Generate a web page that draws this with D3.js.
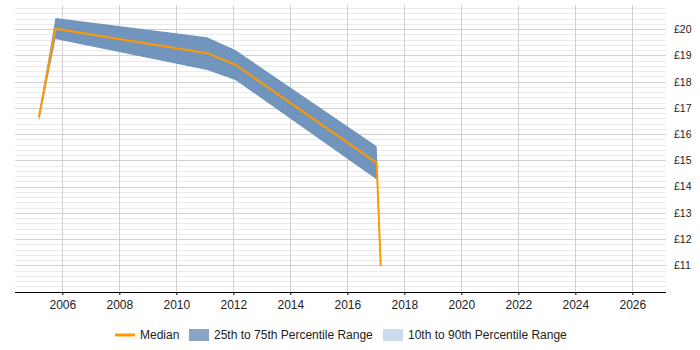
<!DOCTYPE html>
<html><head><meta charset="utf-8">
<script src="https://cdn.jsdelivr.net/npm/d3@7"></script>
<style>body{margin:0;background:#fff}svg{display:block}text{font-family:"Liberation Sans",Arial,sans-serif}</style>
</head><body><svg id="c" width="700" height="350"></svg>
<script>
const years = [2005.18, 2005.76, 2011.08, 2012.07, 2017.03, 2017.17];
const median = [16.64, 20.01, 19.08, 18.64, 14.9, 10.97];
const p25 = [16.5, 19.62, 18.44, 18.06, 14.27, 10.85];
const p75 = [16.75, 20.42, 19.69, 19.2, 15.53, 11.05];
const xTicks = [2006, 2008, 2010, 2012, 2014, 2016, 2018, 2020, 2022, 2024, 2026];
const yTicks = [11, 12, 13, 14, 15, 16, 17, 18, 19, 20];
const legendLabels = ["Median", "25th to 75th Percentile Range", "10th to 90th Percentile Range"];

const svg = d3.select("#c");
const L = 15, R = 666, T = 5.4, B = 291.5;
const x = d3.scaleLinear().domain([2004.34, 2027.18]).range([L, R]);
const y = d3.scaleLinear().domain([10, 20.9]).range([B, T]);

// minor grid
const minors = d3.range(10.2, 20.9, 0.2).filter(v => Math.abs(v - Math.round(v)) > 0.01);
svg.append("g").selectAll("line").data(minors).join("line")
  .attr("x1", L).attr("x2", R).attr("y1", d => Math.round(y(d)) + 0.5).attr("y2", d => Math.round(y(d)) + 0.5)
  .attr("stroke", "#ebebeb").attr("stroke-width", 1);
svg.append("g").selectAll("line").data(yTicks).join("line")
  .attr("x1", L).attr("x2", R).attr("y1", d => Math.round(y(d)) + 0.5).attr("y2", d => Math.round(y(d)) + 0.5)
  .attr("stroke", "#d0d0d0").attr("stroke-width", 1);
svg.append("g").selectAll("line").data(xTicks).join("line")
  .attr("x1", d => Math.round(x(d)) + 0.5).attr("x2", d => Math.round(x(d)) + 0.5).attr("y1", T).attr("y2", B)
  .attr("stroke", "#d0d0d0").attr("stroke-width", 1);

const pts = years.map((yr, i) => ({yr, m: median[i], lo: p25[i], hi: p75[i]}));
svg.append("path").datum(pts)
  .attr("d", d3.area().x(d => x(d.yr)).y0(d => y(d.lo)).y1(d => y(d.hi)))
  .attr("fill", "#6a8fba").attr("fill-opacity", 0.95);
svg.append("path").datum(pts)
  .attr("d", d3.line().x(d => x(d.yr)).y(d => y(d.m)))
  .attr("fill", "none").attr("stroke", "#ff9900").attr("stroke-width", 2);

// x axis
const xa = svg.append("g").attr("transform", `translate(0,${Math.round(B)})`)
  .call(d3.axisBottom(x).tickValues(xTicks).tickFormat(d3.format("d")).tickSize(3).tickSizeOuter(0));
xa.select(".domain").attr("stroke", "#000").attr("d", `M${L},0.5H${R}`);
xa.selectAll(".tick line").attr("stroke", "#000");
xa.selectAll("text").attr("font-size", 12).attr("fill", "#222").attr("y", 17).attr("dy", 0).attr("font-family", '"Liberation Sans",Arial,sans-serif');

// y labels
svg.append("g").selectAll("text").data(yTicks).join("text")
  .attr("x", 674).attr("y", d => y(d)).attr("dy", "0.38em")
  .attr("font-size", 10.5).attr("fill", "#222").text(d => "£" + d);

// legend
const lg = svg.append("g");
const ly = 339;
lg.append("line").attr("x1", 115).attr("x2", 135).attr("y1", 335).attr("y2", 335).attr("stroke", "#ff9900").attr("stroke-width", 3);
lg.append("text").attr("x", 140).attr("y", ly).attr("font-size", 12).attr("fill", "#222").text(legendLabels[0]);
lg.append("rect").attr("x", 189).attr("y", 329).attr("width", 20).attr("height", 12).attr("fill", "#88a5c6");
lg.append("text").attr("x", 214).attr("y", ly).attr("font-size", 12).attr("fill", "#222").text(legendLabels[1]);
lg.append("rect").attr("x", 383).attr("y", 329).attr("width", 20).attr("height", 12).attr("fill", "#c9dcee");
lg.append("text").attr("x", 408).attr("y", ly).attr("font-size", 12).attr("fill", "#222").text(legendLabels[2]);
</script></body></html>
